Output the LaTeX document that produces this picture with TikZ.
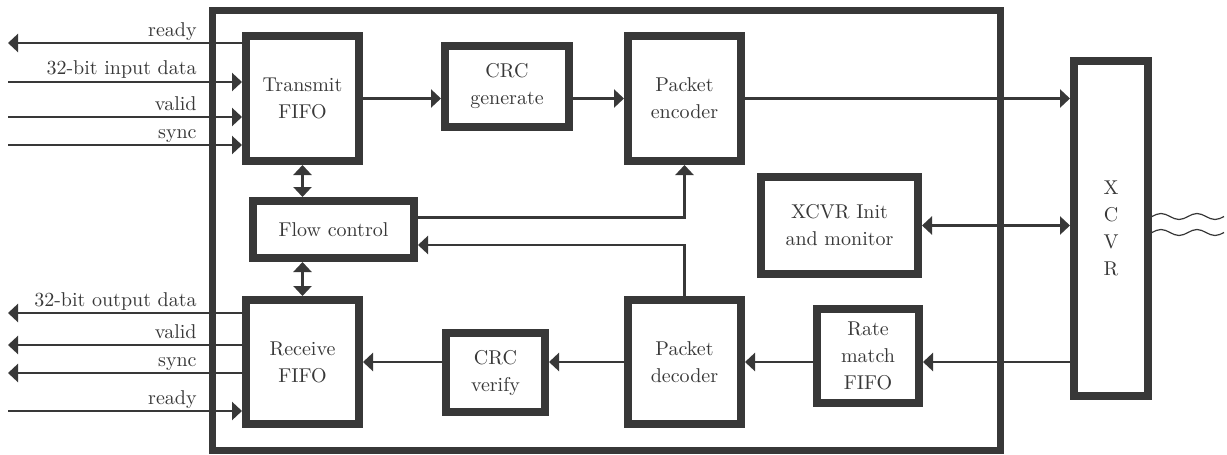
\documentclass[tikz,border=0pt]{standalone}
\usepackage{tikz}
\usetikzlibrary{arrows.meta}
\definecolor{ink}{RGB}{56,56,56}

\begin{document}
\begin{tikzpicture}[x=0.5pt,y=-0.5pt]
    \tikzset{block/.style = {draw=ink, line width=4pt, fill=white, text=ink, align=center, inner sep=0pt, font=\fontsize{10}{13.5}\selectfont}}
    \tikzset{edge/.style = {draw=ink, line width=1.4pt, -{Triangle[length=5pt,width=9pt]}}}
    \tikzset{biedge/.style = {edge, {Triangle[length=5pt,width=9pt]}-{Triangle[length=5pt,width=9pt]}}}
    \tikzset{siglabel/.style = {anchor=base east, inner sep=0pt, text=ink, font=\fontsize{10}{12}\selectfont}}
    \tikzset{wave/.style = {draw=ink, line width=0.6pt}}
    \useasboundingbox (0,0) rectangle (1227,455);
    % board
    \node[draw=ink, line width=3.5pt, minimum width=394pt, minimum height=220pt] (board) at (606,230) {};
    % blocks
    \node[block, minimum width=56.5pt, minimum height=62.5pt] (txfifo) at (302.5,98.5) {Transmit\\FIFO};
    \node[block, minimum width=62pt, minimum height=40.5pt] (crcgen) at (507,86.5) {CRC\\generate};
    \node[block, minimum width=56.5pt, minimum height=62.5pt] (pktenc) at (684.5,98.5) {Packet\\encoder};
    \node[block, minimum width=80.5pt, minimum height=28.5pt] (flowctl) at (333.5,229.5) {Flow control};
    \node[block, minimum width=78.5pt, minimum height=48.5pt] (xinit) at (839.5,225.5) {XCVR Init\\and monitor};
    \node[block, minimum width=56.5pt, minimum height=62pt] (rxfifo) at (302.5,362) {Receive\\FIFO};
    \node[block, minimum width=49.5pt, minimum height=39.5pt] (crcver) at (495.5,372.5) {CRC\\verify};
    \node[block, minimum width=56.5pt, minimum height=62pt] (pktdec) at (684.5,362) {Packet\\decoder};
    \node[block, minimum width=51pt, minimum height=47pt] (ratem) at (868,356) {Rate\\match\\FIFO};
    \node[block, minimum width=37pt, minimum height=167.5pt] (xcvr) at (1111,228.5) {X\\C\\V\\R};
    % edges
    \draw[edge] (txfifo.east) -- (crcgen.west |- txfifo.east);
    \draw[edge] (crcgen.east |- pktenc.west) -- (pktenc.west);
    \draw[edge] (pktenc.east) -- (xcvr.west |- pktenc.east);
    \draw[edge] ([yshift=6pt]flowctl.east) -| (pktenc.south);
    \draw[edge] (pktdec.north) |- ([yshift=-7.75pt]flowctl.east);
    \draw[biedge] (txfifo.south) -- (txfifo.south |- flowctl.north);
    \draw[biedge] (rxfifo.north |- flowctl.south) -- (rxfifo.north);
    \draw[biedge] (xinit.east) -- (xcvr.west |- xinit.east);
    \draw[edge] (xcvr.west |- pktdec.east) -- (ratem.east |- pktdec.east);
    \draw[edge] (ratem.west |- pktdec.east) -- (pktdec.east);
    \draw[edge] (pktdec.west) -- (crcver.east |- pktdec.west);
    \draw[edge] (crcver.west |- rxfifo.east) -- (rxfifo.east);
    % line side
    \draw[wave] ([yshift=6pt]xcvr.east) sin ++(9,-3) cos ++(9,3) sin ++(9,3) cos ++(9,-3) sin ++(9,-3) cos ++(9,3) sin ++(9,3) cos ++(9,-3);
    \draw[wave] ([yshift=-2pt]xcvr.east) sin ++(9,-3) cos ++(9,3) sin ++(9,3) cos ++(9,-3) sin ++(9,-3) cos ++(9,3) sin ++(9,3) cos ++(9,-3);
    % user side, transmit
    \coordinate (txrdy) at (8,43);
    \node[siglabel] (ltxrdy) at (197,36) {ready};
    \draw[edge] (txfifo.west |- txrdy) -- (txrdy);
    \foreach \y/\t in {82/32-bit input data, 117/valid, 145/sync} {
        \coordinate (tx\y) at (8,\y);
        \node[siglabel] (ltx\y) at (197,\y-7) {\t};
        \draw[edge] (tx\y) -- (txfifo.west |- tx\y);
    }
    % user side, receive
    \foreach \y/\t in {313/32-bit output data, 345/valid, 373/sync} {
        \coordinate (rx\y) at (8,\y);
        \node[siglabel] (lrx\y) at (197,\y-7) {\t};
        \draw[edge] (rxfifo.west |- rx\y) -- (rx\y);
    }
    \coordinate (rxrdy) at (8,411);
    \node[siglabel] (lrxrdy) at (197,404) {ready};
    \draw[edge] (rxrdy) -- (rxfifo.west |- rxrdy);
\end{tikzpicture}
\end{document}
